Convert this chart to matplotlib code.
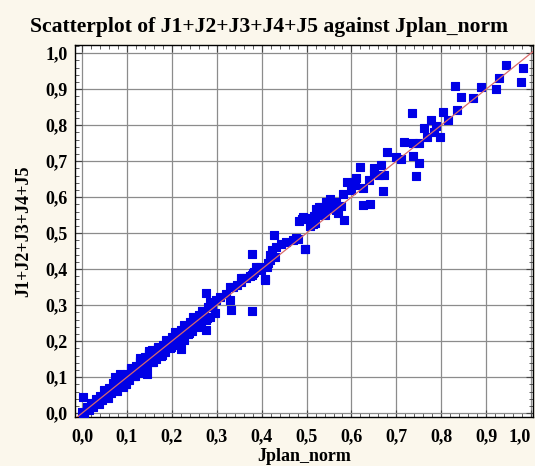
import numpy as np
import matplotlib
matplotlib.use('Agg')
import matplotlib.pyplot as plt
from matplotlib.ticker import MultipleLocator, FuncFormatter

# dense band along the diagonal (0 .. 0.3)
band_lo_x = [0.005, 0.015, 0.025, 0.035, 0.045, 0.055, 0.065, 0.075, 0.085, 0.095,
             0.105, 0.115, 0.125, 0.135, 0.145, 0.155, 0.165, 0.175, 0.185, 0.195,
             0.205, 0.215, 0.225, 0.235, 0.245, 0.255, 0.265, 0.275, 0.285, 0.295]
band_lo_y = [-0.002, 0.008, 0.017, 0.027, 0.036, 0.046, 0.055, 0.064, 0.074, 0.080,
             0.093, 0.102, 0.112, 0.121, 0.131, 0.141, 0.151, 0.160, 0.170, 0.181,
             0.190, 0.199, 0.209, 0.219, 0.229, 0.238, 0.249, 0.258, 0.268, 0.279]
band_hi_x = [0.010, 0.020, 0.030, 0.040, 0.050, 0.060, 0.070, 0.080, 0.090, 0.100,
             0.110, 0.120, 0.130, 0.140, 0.150, 0.160, 0.170, 0.180, 0.190, 0.200,
             0.210, 0.220, 0.230, 0.240, 0.250, 0.260, 0.270, 0.280, 0.290]
band_hi_y = [0.016, 0.027, 0.038, 0.048, 0.059, 0.069, 0.080, 0.092, 0.100, 0.110,
             0.121, 0.132, 0.143, 0.155, 0.163, 0.172, 0.181, 0.190, 0.200, 0.211,
             0.220, 0.232, 0.243, 0.252, 0.262, 0.272, 0.284, 0.294, 0.302]
band_mid_x = [0.000, 0.012, 0.022, 0.032, 0.042, 0.052, 0.062, 0.072, 0.082, 0.092,
              0.102, 0.112, 0.122, 0.132, 0.142, 0.152, 0.162, 0.172, 0.182, 0.192,
              0.202, 0.212, 0.222, 0.232, 0.242, 0.252, 0.262, 0.272]
band_mid_y = [0.002, 0.010, 0.022, 0.031, 0.043, 0.051, 0.063, 0.071, 0.083, 0.091,
              0.103, 0.111, 0.123, 0.131, 0.143, 0.151, 0.163, 0.171, 0.183, 0.191,
              0.203, 0.211, 0.223, 0.231, 0.243, 0.251, 0.263, 0.271]
band_out_x = [0.038, 0.058, 0.078, 0.098, 0.118, 0.138, 0.158, 0.178, 0.198, 0.218,
              0.238, 0.258, 0.278, 0.048, 0.068, 0.088, 0.108, 0.128, 0.148, 0.168,
              0.188, 0.208, 0.228, 0.248, 0.268, 0.288]
band_out_y = [0.024, 0.043, 0.062, 0.082, 0.103, 0.122, 0.143, 0.162, 0.184, 0.203,
              0.222, 0.243, 0.264, 0.063, 0.084, 0.104, 0.124, 0.146, 0.166, 0.184,
              0.204, 0.224, 0.244, 0.266, 0.284, 0.303]

# scattered points (0.27 .. 1.0) and outliers
pts_x = [0.001, 0.001, 0.073, 0.084, 0.128, 0.150, 0.155, 0.091, 0.145, 0.221, 0.228,
         0.276, 0.276, 0.284, 0.299, 0.307, 0.321, 0.329, 0.329, 0.331, 0.336, 0.344,
         0.355, 0.355, 0.358, 0.366, 0.375, 0.378, 0.379, 0.379, 0.381, 0.384, 0.388,
         0.396, 0.399, 0.407, 0.408, 0.412, 0.414, 0.418, 0.418, 0.422, 0.427, 0.429,
         0.433, 0.444, 0.455, 0.470, 0.477, 0.481, 0.484, 0.490, 0.493, 0.496, 0.497,
         0.507, 0.510, 0.514, 0.516, 0.518, 0.521, 0.522, 0.527, 0.530, 0.533, 0.536,
         0.540, 0.544, 0.553, 0.555, 0.566, 0.566, 0.570, 0.577, 0.581, 0.583, 0.590,
         0.599, 0.607, 0.610, 0.618, 0.625, 0.625, 0.639, 0.642, 0.651, 0.651, 0.662,
         0.666, 0.670, 0.673, 0.680, 0.700, 0.711, 0.716, 0.735, 0.736, 0.738, 0.743,
         0.750, 0.750, 0.762, 0.769, 0.778, 0.784, 0.788, 0.797, 0.803, 0.814, 0.830,
         0.834, 0.844, 0.871, 0.889, 0.921, 0.929, 0.945, 0.978, 0.982]
pts_y = [0.046, -0.007, 0.100, 0.108, 0.152, 0.172, 0.176, 0.073, 0.108, 0.177, 0.204,
         0.231, 0.335, 0.309, 0.314, 0.323, 0.332, 0.351, 0.314, 0.286, 0.351, 0.356,
         0.365, 0.374, 0.374, 0.374, 0.381, 0.283, 0.442, 0.383, 0.388, 0.393, 0.406,
         0.406, 0.397, 0.372, 0.371, 0.406, 0.416, 0.425, 0.439, 0.453, 0.496, 0.434,
         0.462, 0.471, 0.476, 0.481, 0.487, 0.485, 0.534, 0.539, 0.544, 0.457, 0.455,
         0.519, 0.541, 0.525, 0.547, 0.527, 0.550, 0.566, 0.573, 0.555, 0.573, 0.564,
         0.550, 0.587, 0.594, 0.569, 0.564, 0.587, 0.555, 0.575, 0.610, 0.536, 0.643,
         0.619, 0.633, 0.652, 0.684, 0.624, 0.578, 0.647, 0.582, 0.681, 0.666, 0.661,
         0.689, 0.618, 0.661, 0.724, 0.712, 0.706, 0.752, 0.834, 0.749, 0.714, 0.660,
         0.749, 0.695, 0.793, 0.766, 0.814, 0.781, 0.797, 0.766, 0.837, 0.814, 0.909,
         0.842, 0.877, 0.875, 0.906, 0.900, 0.931, 0.967, 0.920, 0.958]

x_all = band_lo_x + band_hi_x + band_mid_x + band_out_x + pts_x
y_all = band_lo_y + band_hi_y + band_mid_y + band_out_y + pts_y

bg = '#fbf7ec'
plt.rcParams['font.family'] = ['Liberation Serif', 'DejaVu Serif']
plt.rcParams['font.weight'] = 'bold'

fig = plt.figure(figsize=(5.35, 4.66), dpi=100, facecolor=bg)
ax = fig.add_axes([0.140, 0.105, 0.856, 0.798])
ax.set_facecolor('white')

ax.scatter(x_all, y_all, marker='s', s=31, color='#0000e6', edgecolors='#0000e6',
           linewidths=0.8, zorder=3)
ax.plot([-0.02, 1.02], [-0.02, 1.02], color='#d86a6a', linewidth=0.9, zorder=4)

ax.set_xlim(-0.016, 1.004)
ax.set_ylim(-0.011, 1.022)
ax.xaxis.set_major_locator(MultipleLocator(0.1))
ax.yaxis.set_major_locator(MultipleLocator(0.1))
ax.xaxis.set_minor_locator(MultipleLocator(0.02))
ax.yaxis.set_minor_locator(MultipleLocator(0.02))
fmt = FuncFormatter(lambda v, p: ('%.1f' % v).replace('.', ','))
ax.xaxis.set_major_formatter(fmt)
ax.yaxis.set_major_formatter(fmt)
ax.grid(True, which='major', color='#8c8c8c', linewidth=0.9, zorder=0)
ax.set_axisbelow(True)
ax.tick_params(which='both', direction='in', top=True, right=True, labelsize=13, color='#444444')
ax.tick_params(which='major', length=5, width=0.8)
ax.tick_params(which='minor', length=3, width=0.6)
ax.tick_params(axis='x', pad=8)
ax.tick_params(axis='y', pad=5)
fig.canvas.draw()
xlabels = ax.get_xticklabels()
for lab in xlabels + ax.get_yticklabels():
    lab.set_fontweight('bold')
for lab in xlabels:
    if lab.get_text() == '1,0':
        lab.set_horizontalalignment('right')
for sp in ax.spines.values():
    sp.set_linewidth(1.0)

fig.suptitle('Scatterplot of J1+J2+J3+J4+J5 against Jplan_norm', x=0.503, y=0.942,
             va='center', fontsize=15.6, fontweight='bold')
ax.set_xlabel('Jplan_norm', fontsize=13, fontweight='bold', labelpad=2)
ax.set_ylabel('J1+J2+J3+J4+J5', fontsize=13, fontweight='bold', labelpad=10)

fig.savefig('out.png', dpi=100, facecolor=bg)
